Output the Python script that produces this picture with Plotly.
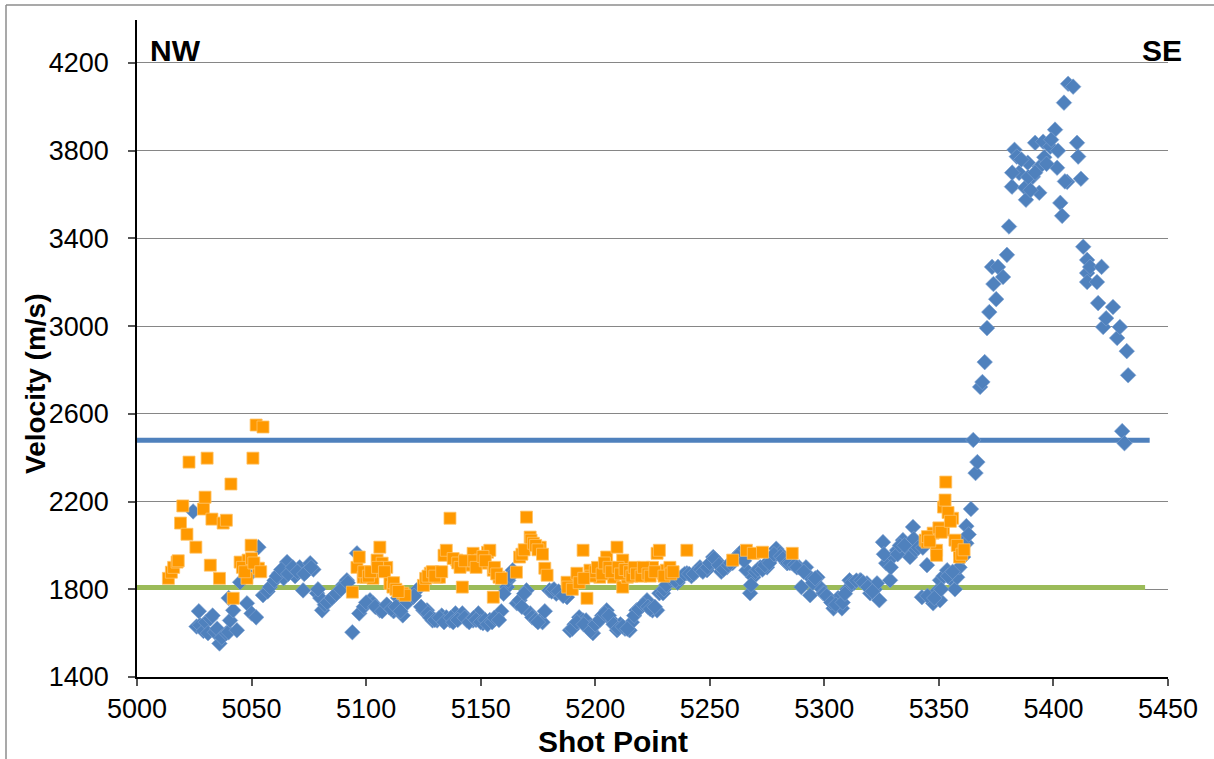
import plotly.graph_objects as go

# ---------------- data ----------------
blue_x = [5024.5, 5026, 5027, 5027.5, 5029, 5030, 5031, 5032, 5033, 5034, 5035, 5036, 5037, 5039, 5040,
          5040.6, 5040, 5042, 5043.6, 5045, 5048, 5049, 5050, 5052, 5053, 5055, 5057, 5058, 5060, 5062,
          5064, 5065.5, 5067, 5069, 5071, 5072.5, 5074, 5075.6, 5077, 5078.6, 5080, 5080.8, 5082, 5084,
          5086, 5088.6, 5090, 5091.6, 5094, 5096, 5097, 5099, 5101.7, 5103, 5106, 5108, 5110, 5112, 5114,
          5116, 5118, 5120.5, 5122, 5125, 5126.6, 5129, 5131, 5133, 5135, 5136.6, 5139, 5141, 5142, 5144,
          5146.7, 5149, 5151, 5154, 5157, 5159, 5161.5, 5164, 5165.8, 5167, 5170, 5171.6, 5172.5, 5174,
          5176, 5177, 5180, 5183, 5187.7, 5189, 5191, 5193, 5194.7, 5196, 5197.8, 5199, 5201, 5203, 5205,
          5207, 5209.5, 5211, 5213, 5215, 5216, 5218, 5220, 5222.6, 5225, 5227, 5228, 5229.6, 5232.6, 5234,
          5236, 5238, 5240, 5242, 5244, 5245.7, 5248.8, 5251.5, 5253, 5255, 5257.5, 5260, 5263, 5264.6,
          5266, 5267.6, 5269, 5270, 5272, 5275, 5277, 5279, 5280.7, 5283.7, 5286, 5289, 5290, 5292, 5293.8,
          5293.8, 5297, 5298, 5299.5, 5302, 5304, 5306, 5307.7, 5310, 5311, 5313, 5315.6, 5318.6, 5320,
          5322, 5323, 5324, 5325.6, 5327, 5328.7, 5330, 5331.7, 5334.3, 5336, 5337.4, 5338.7, 5340, 5342.6,
          5344.8, 5346, 5347.5, 5349, 5350.5, 5350.5, 5352, 5353.6, 5355, 5357, 5358, 5359, 5360.6, 5360.6,
          5362, 5362, 5364, 5365, 5366, 5366.8, 5368, 5369, 5370, 5371, 5372, 5373.2, 5373.8, 5375, 5375.8,
          5378, 5379.7, 5380.6, 5381.9, 5383, 5384, 5385, 5387.6, 5388, 5388.8, 5391, 5392, 5393.8, 5394,
          5395.5, 5398.6, 5400.7, 5401.6, 5403, 5403.8, 5404.6, 5406, 5406.4, 5408.6, 5410.3, 5410.8, 5412,
          5413, 5414.7, 5414.7, 5414.7, 5416, 5419, 5419.5, 5421, 5421.7, 5423, 5426, 5427.8, 5429, 5430,
          5431, 5432, 5432.6]
blue_y = [2155, 1630, 1700, 1636, 1610, 1650, 1600, 1667, 1680, 1604, 1620, 1553, 1580, 1600, 1604,
          1658, 1760, 1704, 1613, 1832, 1736, 1864, 1690, 1672, 1992, 1773, 1790, 1810, 1840, 1873,
          1850, 1924, 1880, 1860, 1900, 1795, 1880, 1919, 1890, 1782, 1760, 1704, 1730, 1750,
          1770, 1795, 1820, 1841, 1604, 1964, 1690, 1720, 1750, 1736, 1704, 1718, 1718, 1700, 1760,
          1681, 1740, 1764, 1795, 1704, 1704, 1658, 1658, 1680, 1672, 1658, 1690, 1672, 1690, 1658,
          1658, 1690, 1645, 1660, 1672, 1700, 1810, 1887, 1736, 1750, 1795, 1690, 1672, 1660,
          1658, 1650, 1795, 1780, 1764, 1613, 1640, 1672, 1658, 1658, 1627, 1600, 1650, 1680, 1704,
          1660, 1613, 1640, 1620, 1613, 1650, 1704, 1720, 1750, 1704, 1704, 1782, 1782, 1841, 1841,
          1830, 1860, 1873, 1860, 1880, 1900, 1887, 1947, 1930, 1880, 1900, 1920, 1964, 1950,
          1887, 1782, 1855, 1880, 1900, 1900, 1940, 1985, 1964, 1919, 1919, 1900, 1810, 1900, 1855,
          1773, 1855, 1810, 1782, 1760, 1713, 1760, 1713, 1800, 1841, 1830, 1841, 1827, 1782,
          1800, 1827, 1750, 2015, 1919, 1841, 1950, 1978, 2024, 1990, 1947, 2084, 1980, 1764,
          1910, 1760, 1736, 1790, 1750, 1841, 1860, 1887, 1850, 1800, 1855, 1900, 1947, 2024,
          2010, 2088, 2166, 2481, 2330, 2380, 2723, 2745, 2836, 2991, 3064, 3270, 3192, 3123, 3270,
          3224, 3325, 3454, 3636, 3804, 3773, 3699, 3631, 3576, 3745, 3681, 3836, 3608, 3727,
          3841, 3818, 3896, 3722, 3562, 3503, 4019, 3658, 4105, 4092, 3836, 3773, 3672,
          3362, 3302, 3242, 3201, 3270, 3201, 3105, 3270, 2996, 3036, 3087, 2946, 2996, 2521,
          2466, 2886, 2776]

# additional points
blue_more = [(5061, 1860), (5063, 1890), (5066, 1870), (5068, 1900), (5070, 1880), (5073, 1870),
             (5076, 1900), (5079, 1800), (5083, 1740), (5085, 1760), (5087, 1780), (5089, 1800),
             (5092, 1830), (5100, 1740), (5104, 1720), (5107, 1700), (5109, 1730), (5111, 1710),
             (5113, 1720), (5115, 1700), (5121, 1770), (5124, 1720), (5127, 1690), (5128, 1670),
             (5130, 1660), (5132, 1670), (5134, 1650), (5137, 1670), (5138, 1650), (5140, 1660),
             (5143, 1670), (5145, 1650), (5147, 1670), (5148, 1660), (5150, 1650), (5152, 1660),
             (5153, 1640), (5155, 1650), (5156, 1670), (5158, 1660), (5160, 1780), (5162, 1840),
             (5163, 1860), (5168, 1720), (5169, 1780), (5175, 1650), (5178, 1700), (5181, 1790),
             (5182, 1800), (5184, 1790), (5186, 1770), (5190, 1620), (5192, 1650), (5195, 1640),
             (5198, 1610), (5200, 1640), (5202, 1660), (5204, 1690), (5206, 1680), (5208, 1640),
             (5210, 1620), (5212, 1630), (5214, 1620), (5217, 1680), (5219, 1710), (5221, 1730),
             (5223, 1720), (5224, 1710), (5226, 1720), (5230, 1800), (5231, 1820), (5233, 1850),
             (5235, 1840), (5237, 1850), (5239, 1870), (5241, 1870), (5243, 1870), (5246, 1890),
             (5247, 1880), (5249, 1900), (5250, 1920), (5252, 1940), (5254, 1910), (5256, 1890),
             (5258, 1910), (5259, 1920), (5261, 1940), (5262, 1950), (5265, 1930), (5268, 1820),
             (5271, 1890), (5273, 1890), (5274, 1910), (5276, 1920), (5278, 1960), (5281, 1950),
             (5282, 1940), (5284, 1920), (5285, 1920), (5287, 1910), (5288, 1900), (5291, 1880),
             (5295, 1830), (5296, 1850), (5300, 1780), (5301, 1770), (5303, 1740), (5305, 1730),
             (5308, 1740), (5309, 1780), (5312, 1830), (5314, 1840), (5316, 1840), (5317, 1830),
             (5319, 1810), (5321, 1790), (5326, 1960), (5329, 1900), (5332, 1960), (5333, 2000),
             (5335, 2000), (5339, 2030), (5341, 1990), (5343, 1990), (5345, 1770), (5348, 1760),
             (5351, 1800), (5354, 1860), (5356, 1880), (5363, 2050), (5382, 3700), (5386, 3760),
             (5389, 3680), (5390, 3620), (5392, 3700), (5396, 3770), (5397, 3740), (5399, 3850),
             (5402, 3800), (5405, 3660)]

orange_x = [5013.7, 5015, 5016, 5017.5, 5019, 5020, 5021.8, 5022.7, 5025.7, 5029, 5029.7, 5030.6, 5032,
            5032.7, 5036, 5037.6, 5039, 5041, 5042, 5045, 5048, 5048.5, 5049.8, 5050.6, 5052, 5053, 5055,
            5094, 5096, 5097, 5098.7, 5100, 5103, 5104.8, 5106, 5107, 5109, 5110.4, 5111.7, 5116, 5117,
            5125, 5128, 5128.8, 5131, 5132, 5134, 5135, 5136.6, 5139.6, 5142, 5142, 5144, 5145, 5146.7,
            5149.7, 5150.6, 5153, 5154, 5155.5, 5155.5, 5158, 5165.6, 5167, 5170, 5171.6, 5172, 5176,
            5178, 5179, 5187.7, 5192, 5194.7, 5196.4, 5197.7, 5202, 5205, 5208, 5209.5, 5212, 5212, 5214,
            5219.6, 5222, 5225, 5227, 5228, 5229.6, 5231, 5232.6, 5240, 5260, 5266, 5269, 5273, 5286,
            5344, 5344.8, 5347.5, 5349, 5349, 5352, 5352, 5352.7, 5353, 5356, 5357, 5359, 5359]
orange_y = [1850, 1878, 1900, 1924, 2102, 2180, 2051, 2380, 1992, 2166, 2220, 2398, 1910,
            2120, 1850, 2102, 2115, 2280, 1759, 1924, 1850, 1933, 2001, 2398, 2549, 1896, 2540,
            1787, 1900, 1947, 1855, 1855, 1850, 1933, 1992, 1919, 1900, 1827, 1810, 1782, 1773,
            1818, 1873, 1878, 1855, 1855, 1955, 1978, 2124, 1933, 1919, 1810, 1919, 1910, 1964,
            1933, 1919, 1969, 1978, 1887, 1764, 1855, 1878, 1947, 2129, 2038, 2024, 1992,
            1896, 1864, 1832, 1873, 1978, 1759, 1887, 1855, 1947, 1855, 1992, 1810, 1933, 1855,
            1873, 1880, 1900, 1964, 1978, 1873, 1887, 1900, 1978, 1933, 1978, 1964, 1969, 1964,
            2024, 2015, 2056, 1978, 1955, 2070, 2175, 2207, 2289, 2124, 2024, 1978, 1947]

orange_more = [(5198, 1860), (5200, 1880), (5201, 1900), (5203, 1870), (5204, 1920), (5206, 1900),
               (5207, 1880), (5210, 1900), (5211, 1870), (5213, 1890), (5215, 1880), (5216, 1860),
               (5217, 1900), (5218, 1870), (5220, 1860), (5221, 1900), (5223, 1870), (5224, 1860),
               (5226, 1880), (5230, 1860), (5233, 1870), (5234, 1880), (5188, 1810), (5190, 1800),
               (5193, 1830), (5195, 1850), (5138, 1940), (5140, 1920), (5141, 1900), (5143, 1930),
               (5147, 1930), (5148, 1900), (5151, 1950), (5152, 1930), (5156, 1900), (5157, 1870),
               (5159, 1850), (5168, 1960), (5169, 1980), (5173, 2010), (5174, 2000), (5175, 1980),
               (5177, 1960), (5099, 1880), (5101, 1860), (5102, 1880), (5105, 1900), (5108, 1880),
               (5112, 1830), (5113, 1800), (5114, 1790), (5126, 1850), (5127, 1860), (5129, 1880),
               (5130, 1860), (5133, 1880), (5018, 1930), (5046, 1900), (5047, 1880), (5050, 1940),
               (5051, 1920), (5054, 1880), (5345, 2040), (5346, 2020), (5350, 2080), (5351, 2060),
               (5354, 2150), (5355, 2110), (5358, 2000), (5360, 1960), (5361, 1980)]

blue_line_x = [5000, 5442]
blue_line_y = [2480, 2480]
green_line_x = [5000, 5440]
green_line_y = [1808, 1808]

x_ticks = [5000, 5050, 5100, 5150, 5200, 5250, 5300, 5350, 5400, 5450]
y_ticks = [1400, 1800, 2200, 2600, 3000, 3400, 3800, 4200]

BLUE = "#4F81BD"
ORANGE = "#FF9900"
GREEN = "#9BBB59"
FONT = "Liberation Sans, Arial, sans-serif"

bx = blue_x + [p[0] for p in blue_more]
by = blue_y + [p[1] for p in blue_more]
ox = orange_x + [p[0] for p in orange_more]
oy = orange_y + [p[1] for p in orange_more]

fig = go.Figure()
fig.add_trace(go.Scatter(x=blue_line_x, y=blue_line_y, mode="lines",
                         line=dict(color=BLUE, width=5), hoverinfo="skip"))
fig.add_trace(go.Scatter(x=green_line_x, y=green_line_y, mode="lines",
                         line=dict(color=GREEN, width=5), hoverinfo="skip"))
fig.add_trace(go.Scatter(x=bx, y=by, mode="markers",
                         marker=dict(symbol="diamond", size=12, color=BLUE,
                                     line=dict(color="#7FA3D1", width=0.6))))
fig.add_trace(go.Scatter(x=ox, y=oy, mode="markers",
                         marker=dict(symbol="square", size=12, color=ORANGE,
                                     line=dict(color="#FFC366", width=0.8))))

L, R, T, B = 137, 46, 20, 82
W, H = 1214, 759
pw, ph = W - L - R, H - T - B


def px(x):
    return (x - L) / pw


def py(y):
    return (H - B - y) / ph


fig.update_layout(
    width=W, height=H,
    margin=dict(l=L, r=R, t=T, b=B, autoexpand=False),
    paper_bgcolor="white", plot_bgcolor="white",
    showlegend=False,
    font=dict(family=FONT, size=26, color="black"),
    xaxis=dict(range=[5000, 5450], tickvals=x_ticks, showgrid=False,
               showline=True, linecolor="black", linewidth=1.5,
               ticks="outside", ticklen=7, tickcolor="#555", tickwidth=1.5,
               ticklabelstandoff=0, zeroline=False, automargin=False,
               tickfont=dict(family=FONT, size=27, color="black")),
    yaxis=dict(range=[1400, 4396], tickvals=y_ticks, showgrid=True,
               gridcolor="#868686", gridwidth=1.2,
               showline=True, linecolor="black", linewidth=1.5,
               ticks="outside", ticklen=7, tickcolor="#555", tickwidth=1.5,
               ticklabelstandoff=14, zeroline=False, automargin=False,
               tickfont=dict(family=FONT, size=27, color="black")),
    annotations=[
        dict(text="<b>NW</b>", x=px(148), y=py(50), xref="paper", yref="paper",
             xanchor="left", yanchor="middle", showarrow=False,
             font=dict(family=FONT, size=30, color="black")),
        dict(text="<b>SE</b>", x=px(1184), y=py(50), xref="paper", yref="paper",
             xanchor="right", yanchor="middle", showarrow=False,
             font=dict(family=FONT, size=30, color="black")),
        dict(text="<b>Velocity (m/s)</b>", x=px(35), y=py(384), xref="paper", yref="paper",
             xanchor="center", yanchor="middle", showarrow=False, textangle=-90,
             font=dict(family=FONT, size=28, color="black")),
        dict(text="<b>Shot Point</b>", x=px(613), y=py(741), xref="paper", yref="paper",
             xanchor="center", yanchor="middle", showarrow=False,
             font=dict(family=FONT, size=30, color="black")),
    ],
    shapes=[
        dict(type="line", xref="paper", yref="paper", x0=px(6), x1=px(6), y0=py(5), y1=py(759),
             line=dict(color="#8C8C8C", width=1.5)),
        dict(type="line", xref="paper", yref="paper", x0=px(6), x1=px(1214), y0=py(5), y1=py(5),
             line=dict(color="#8C8C8C", width=1.5)),
    ],
)

fig.write_html("out.html", config={"displayModeBar": False},
               post_script="document.body.style.margin='0';document.body.style.overflow='hidden';")
